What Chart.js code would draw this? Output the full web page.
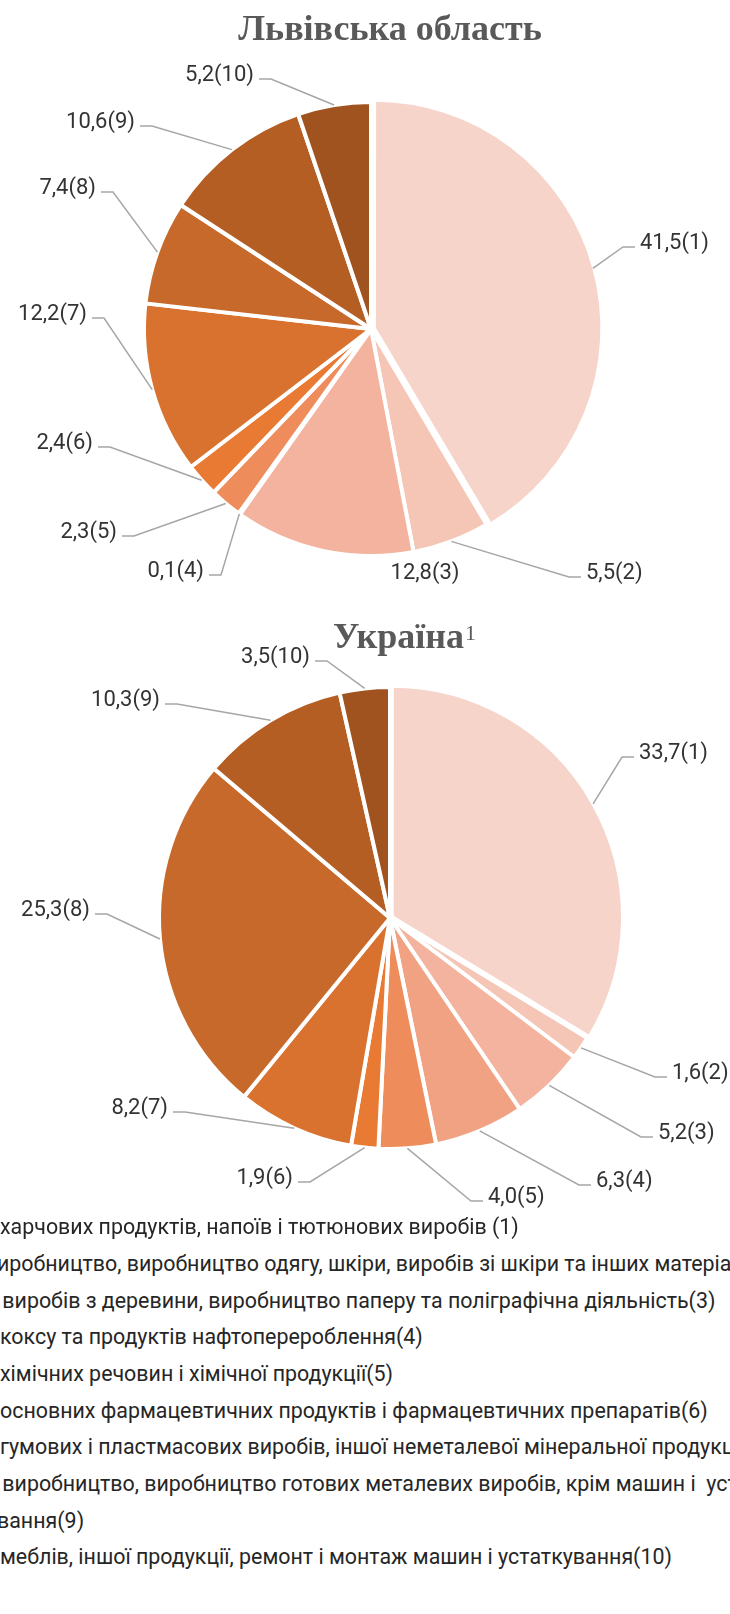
<!DOCTYPE html>
<html>
<head>
<meta charset="utf-8">
<script src="https://cdn.jsdelivr.net/npm/chart.js@4.4.0/dist/chart.umd.min.js"></script>
<style>
html, body { margin: 0; padding: 0; background: #fff; }
body { width: 730px; height: 1614px; position: relative; overflow: hidden; }
.box { position: absolute; left: 0; width: 730px; }
.title { position: absolute; font-family: 'Liberation Serif', 'Times New Roman', serif; font-weight: bold;
  font-size: 36px; line-height: 36px; color: #595959; white-space: nowrap; }
.lg { position: absolute; white-space: pre; color: #262626; font-family: Roboto; }
</style>
</head>
<body>
<div class="box" style="top:0;height:600px"><canvas id="lvivChart" width="730" height="600"></canvas></div>
<div class="box" style="top:600px;height:620px"><canvas id="ukrChart" width="730" height="620"></canvas></div>
<div class="title" style="left:390px;top:10px;transform:translateX(-50%)">Львівська область</div>
<div class="title" style="left:333px;top:618px">Україна<span style="font-size:22px;font-weight:normal;position:relative;top:-8px;margin-left:1px">1</span></div>
<div id="legend"></div>

<script>
// categories (legend text)
const categories = [
  'Виробництво харчових продуктів, напоїв і тютюнових виробів (1)',
  'Текстильне виробництво, виробництво одягу, шкіри, виробів зі шкіри та інших матеріалів(2)',
  'Виготовлення виробів з деревини, виробництво паперу та поліграфічна діяльність(3)',
  'Виробництво коксу та продуктів нафтоперероблення(4)',
  'Виробництво хімічних речовин і хімічної продукції(5)',
  'Виробництво основних фармацевтичних продуктів і фармацевтичних препаратів(6)',
  'Виробництво гумових і пластмасових виробів, іншої неметалевої мінеральної продукції(7)',
  'Металургійне виробництво, виробництво готових металевих виробів, крім машин і  устаткування(8)',
  'Машинобудування(9)',
  'Виробництво меблів, іншої продукції, ремонт і монтаж машин і устаткування(10)'
];

// series values, %
const lvivValues = [41.5, 5.5, 12.8, 0.1, 2.3, 2.4, 12.2, 7.4, 10.6, 5.2];
const ukrValues = [33.7, 1.6, 5.2, 6.3, 4.0, 1.9, 8.2, 25.3, 10.3, 3.5];

const sliceColors = ['#F6D4CA', '#F5C5B6', '#F3B39E', '#F0A283', '#EE8D5B',
                     '#E87A33', '#D9722E', '#C7692A', '#B55E24', '#A0531F'];

// label layout: [x, y, align, leader]
const lvivLabelPos = [
  [640, 243, 'left', true], [586, 573, 'left', true], [425, 573, 'center', false],
  [204, 571, 'right', true], [117, 532, 'right', true], [93, 443, 'right', true],
  [87, 314, 'right', true], [96, 188, 'right', true], [135, 122, 'right', true],
  [254, 75, 'right', true]
];
const ukrLabelPos = [
  [639, 153, 'left', true], [672, 473, 'left', true], [658, 533, 'left', true],
  [596, 581, 'left', true], [488, 597, 'left', true], [293, 578, 'right', true],
  [168, 508, 'right', true], [90, 310, 'right', true], [160, 100, 'right', true],
  [310, 57, 'right', true]
];

// hidden part of each legend line (cut off by the left edge)
const legendCut = [12, 12, 12, 12, 12, 12, 12, 12, 10, 12];

function fmt(v, i) {
  return v.toFixed(1).replace('.', ',') + '(' + (i + 1) + ')';
}

const sliceLabels = {
  id: 'sliceLabels',
  afterDatasetsDraw(chart, args, opts) {
    const ctx = chart.ctx;
    const meta = chart.getDatasetMeta(0);
    const ds = chart.data.datasets[0];
    ctx.save();
    ctx.font = '22px Roboto';
    ctx.textBaseline = 'middle';
    meta.data.forEach((arc, i) => {
      const p = opts.pos[i];
      const a = arc.getProps(['x', 'y', 'startAngle', 'endAngle', 'outerRadius'], true);
      const mid = (a.startAngle + a.endAngle) / 2;
      const off = (ds.offset ? ds.offset[i] : 0) / 4;
      const r = a.outerRadius + off;
      const ex = a.x + Math.cos(mid) * r;
      const ey = a.y + Math.sin(mid) * r;
      if (p[3]) {
        const dir = p[2] === 'right' ? 1 : -1;
        ctx.strokeStyle = '#a6a6a6';
        ctx.lineWidth = 1.5;
        ctx.beginPath();
        ctx.moveTo(p[0] + dir * 5, p[1] + 4);
        ctx.lineTo(p[0] + dir * 17, p[1] + 4);
        ctx.lineTo(ex, ey);
        ctx.stroke();
      }
      ctx.fillStyle = '#333333';
      ctx.textAlign = p[2];
      ctx.fillText(fmt(ds.data[i], i), p[0], p[1]);
    });
    ctx.restore();
  }
};

function makePie(id, values, offsets, radius, padding, pos) {
  return new Chart(document.getElementById(id), {
    type: 'pie',
    data: {
      labels: categories,
      datasets: [{
        data: values,
        backgroundColor: sliceColors,
        borderColor: '#ffffff',
        borderWidth: 4,
        offset: offsets,
        hoverOffset: 0
      }]
    },
    options: {
      responsive: false,
      animation: false,
      devicePixelRatio: 1,
      radius: radius,
      layout: { padding: padding },
      plugins: {
        legend: { display: false },
        tooltip: { enabled: false },
        sliceLabels: { pos: pos }
      }
    },
    plugins: [sliceLabels]
  });
}

function buildLegend() {
  // legend lines, left part off-page as in the source picture
  const legend = document.getElementById('legend');
  legend.innerHTML = '';
  const mctx = document.createElement('canvas').getContext('2d');
  mctx.font = '20px Roboto';
  const fitW = mctx.measureText(categories[0].slice(legendCut[0])).width;
  const fs = 20 * 519 / fitW;
  mctx.font = fs + 'px Roboto';
  const lh = fs * 1.2;
  categories.forEach((c, i) => {
    const hidden = c.slice(0, legendCut[i]);
    const midWord = hidden[hidden.length - 1] !== ' ';
    const startX = midWord ? -3 : 0;
    const d = document.createElement('div');
    d.className = 'lg';
    d.textContent = c;
    d.style.fontSize = fs + 'px';
    d.style.lineHeight = lh + 'px';
    d.style.top = (1227 + 36.7 * i - lh / 2) + 'px';
    d.style.left = (startX - mctx.measureText(hidden).width) + 'px';
    legend.appendChild(d);
  });
}

function drawAll() {
  makePie('lvivChart', lvivValues, [12, 0, 0, 0, 0, 0, 0, 0, 0, 0], 227,
    { left: 12, right: 0, top: 58, bottom: 0 }, lvivLabelPos);
  makePie('ukrChart', ukrValues, [8, 0, 0, 0, 0, 0, 0, 0, 0, 0], 231,
    { left: 50, right: 0, top: 16, bottom: 0 }, ukrLabelPos);
  buildLegend();
}

Promise.all([document.fonts.load('20px Roboto', 'Виробництво'), document.fonts.load('bold 36px "Liberation Serif"')])
  .then(drawAll, drawAll);
</script>
</body>
</html>
